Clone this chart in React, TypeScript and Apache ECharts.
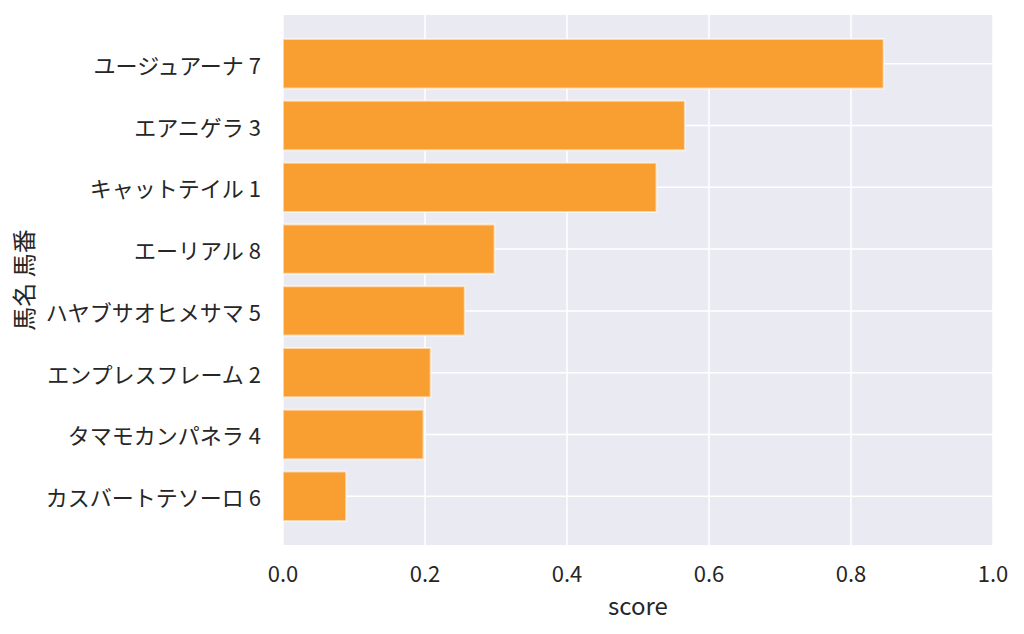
import React, { useEffect, useRef } from "react";
import * as echarts from "echarts";

const horseNames = [
  "ユージュアーナ 7",
  "エアニゲラ 3",
  "キャットテイル 1",
  "エーリアル 8",
  "ハヤブサオヒメサマ 5",
  "エンプレスフレーム 2",
  "タマモカンパネラ 4",
  "カスバートテソーロ 6",
];
const scores = [0.846, 0.566, 0.526, 0.298, 0.256, 0.208, 0.198, 0.089];
const xTicks = [0, 0.2, 0.4, 0.6, 0.8, 1.0];

const FONT = "'Noto Sans CJK JP', 'Noto Sans', sans-serif";

export default function App() {
  const ref = useRef<HTMLDivElement>(null);
  useEffect(() => {
    if (!ref.current) return;
    const chart = echarts.init(ref.current, undefined, { renderer: "svg" });
    const idx = horseNames.map((_, i) => i);
    chart.setOption({
      animation: false,
      backgroundColor: "#ffffff",
      textStyle: { fontFamily: FONT },
      grid: {
        left: 283,
        right: 31,
        top: 15,
        bottom: 89,
        show: true,
        backgroundColor: "#EAEAF2",
        borderWidth: 0,
      },
      xAxis: {
        type: "value",
        min: xTicks[0],
        max: xTicks[xTicks.length - 1],
        interval: 0.2,
        axisLine: { show: false },
        axisTick: { show: false },
        axisLabel: {
          color: "#262626",
          fontSize: 22,
          fontFamily: FONT,
          margin: 16,
          formatter: (v: number) => v.toFixed(1),
        },
        splitLine: { show: true, lineStyle: { color: "#ffffff", width: 1.5 } },
        name: "score",
        nameLocation: "middle",
        nameGap: 47,
        nameTextStyle: { color: "#262626", fontSize: 24, fontFamily: FONT },
      },
      yAxis: {
        type: "value",
        min: -0.79,
        max: 7.79,
        inverse: true,
        axisLine: { show: false },
        axisTick: { show: false, customValues: idx },
        splitLine: { show: false },
        axisLabel: {
          customValues: idx,
          color: "#262626",
          fontSize: 22,
          fontFamily: FONT,
          margin: 22,
          formatter: (v: number) => horseNames[Math.round(v)] ?? "",
        },
        name: "馬名 馬番",
        nameLocation: "middle",
        nameRotate: 90,
        nameGap: 249,
        nameTextStyle: { color: "#262626", fontSize: 24, fontFamily: FONT },
      },
      series: [
        {
          type: "custom",
          clip: false,
          silent: true,
          z: 1,
          data: idx.map((i) => [i]),
          renderItem: (params: any, api: any) => {
            const i = api.value(0);
            const p0 = api.coord([0, i]);
            const p1 = api.coord([1, i]);
            return {
              type: "line",
              shape: { x1: p0[0], y1: p0[1], x2: p1[0], y2: p1[1] },
              style: { stroke: "#ffffff", lineWidth: 1.5 },
            };
          },
        },
        {
          type: "custom",
          clip: false,
          z: 2,
          data: scores.map((s, i) => [s, i]),
          renderItem: (params: any, api: any) => {
            const v = api.value(0);
            const i = api.value(1);
            const a = api.coord([0, i - 0.4]);
            const b = api.coord([v, i + 0.4]);
            const y = Math.min(a[1], b[1]);
            return {
              type: "rect",
              shape: { x: a[0], y, width: b[0] - a[0], height: Math.abs(b[1] - a[1]) },
              style: {
                fill: "#F99F32",
                stroke: "rgba(255,255,255,0.55)",
                lineWidth: 2,
              },
            };
          },
        },
      ],
    });
    return () => chart.dispose();
  }, []);
  return (
    <div
      ref={ref}
      style={{ position: "fixed", left: 0, top: 0, width: 1024, height: 634 }}
    />
  );
}
